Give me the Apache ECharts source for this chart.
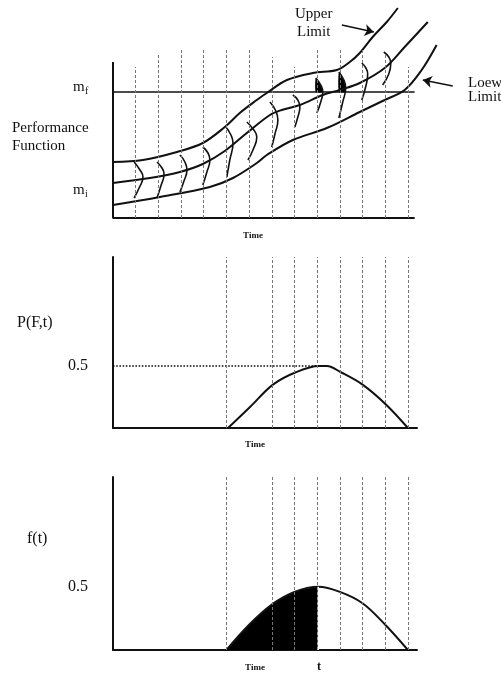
<!DOCTYPE html>
<html>
<head>
<meta charset="utf-8">
<script src="https://cdn.jsdelivr.net/npm/echarts@6/dist/echarts.min.js"></script>
<style>
  html, body { margin: 0; padding: 0; background: #fff; }
  #chart { width: 501px; height: 675px; }
</style>
</head>
<body>
<div id="chart"></div>
<script>
// top panel: performance function band (time units, performance units)
const upperLimit = [[0, 5.6], [1.32, 5.8], [2.82, 6.6], [3.96, 7.5], [4.93, 9.1], [5.59, 10.5], [6.34, 11.8], [6.78, 12.5],
  [7.67, 13.8], [8.81, 14.5], [9.87, 14.8], [10.44, 15.6], [10.88, 16.5], [11.45, 18.1], [12.07, 19.6], [12.56, 21.0]];
const meanCurve = [[0, 3.5], [1.63, 4.0], [2.95, 4.6], [3.96, 5.4], [4.93, 6.7], [5.9, 8.5], [6.92, 10.3], [7.44, 10.8],
  [8.24, 11.3], [9.25, 12.3], [10.0, 12.8], [10.88, 13.5], [11.98, 15.0], [12.86, 17.1], [13.88, 19.6]];
const lowerLimit = [[0, 1.3], [2.07, 2.1], [4.27, 3.1], [5.29, 4.0], [6.34, 5.5], [6.78, 6.3], [7.93, 7.8], [9.43, 9.0],
  [10.88, 10.6], [11.98, 11.8], [12.86, 12.8], [13.61, 14.8], [14.27, 17.3]];
const mf = 12.6;
const topAxisTop = 15.6;
const topAxisEnd = 13.3;

// little density sketches on each time line
const densities = [
  [[0.93, 5.6], [1.19, 4.8], [1.32, 4.1], [1.15, 3.0], [0.93, 2.0]],
  [[1.94, 5.6], [2.16, 5.0], [2.25, 4.4], [2.11, 3.2], [1.94, 2.0]],
  [[2.95, 6.3], [3.17, 5.6], [3.26, 4.8], [3.13, 3.7], [2.95, 2.6]],
  [[3.96, 7.1], [4.19, 6.5], [4.27, 5.8], [4.14, 4.6], [3.96, 3.3]],
  [[4.98, 9.1], [5.2, 8.3], [5.29, 7.5], [5.15, 5.8], [5.02, 4.1]],
  [[5.9, 9.6], [6.21, 8.8], [6.34, 8.1], [6.17, 6.8], [5.95, 5.8]],
  [[6.92, 11.6], [7.18, 10.7], [7.27, 9.8], [7.14, 8.4], [7.0, 7.1]],
  [[7.93, 12.3], [8.15, 11.8], [8.24, 11.1], [8.15, 10.1], [8.02, 9.1]],
  [[8.94, 14.0], [9.16, 13.3], [9.25, 12.6], [9.16, 11.6], [8.99, 10.5]],
  [[9.96, 14.6], [10.18, 13.8], [10.26, 13.0], [10.13, 11.6], [9.96, 10.0]],
  [[10.97, 15.5], [11.15, 15.0], [11.23, 14.4], [11.15, 13.2], [10.97, 11.8]],
  [[11.94, 16.6], [12.16, 16.1], [12.25, 15.5], [12.16, 14.4], [11.89, 13.3]]
];
// failed part (above mf) shaded black
const failFills = [
  [[8.94, 14.0], [9.16, 13.3], [9.25, 12.6], [8.94, 12.6]],
  [[9.96, 14.6], [10.18, 13.8], [10.26, 13.0], [10.24, 12.6], [9.96, 12.6]]
];
const topGuides = [1, 2, 3, 4, 5, 6, 7, 8, 9, 10, 11, 12, 13];
const topGuideTops = [15.1, 16.5, 16.8, 16.8, 16.8, 16.8, 16.1, 15.1, 16.8, 16.8, 16.8, 16.3, 15.1];

// middle panel P(F,t)
const pft = [[5.07, 0], [6.04, 0.17], [7.05, 0.35], [8.06, 0.45], [9.08, 0.5], [9.43, 0.5], [10.04, 0.45], [11.0, 0.35],
  [12.03, 0.19], [13.0, 0]];
// bottom panel f(t)
const ft = [[5.0, 0], [6.0, 0.2], [7.0, 0.36], [8.0, 0.46], [9.05, 0.5], [10.0, 0.46], [11.0, 0.37], [12.0, 0.2], [13.0, 0]];
const tMark = 9.05;
const lowerGuides = [5, 7, 8, 9, 10, 11, 12, 13];

const serif = 'Liberation Serif, serif';
const chart = echarts.init(document.getElementById('chart'));

function curve(data, gi) {
  return {
    type: 'line', xAxisIndex: gi, yAxisIndex: gi, data: data, smooth: 0.35,
    showSymbol: false, clip: false, silent: true,
    lineStyle: { color: '#111', width: 2 }, z: 5
  };
}
function straight(data, gi, w, type) {
  return {
    type: 'line', xAxisIndex: gi, yAxisIndex: gi, data: data, showSymbol: false, clip: false, silent: true,
    lineStyle: { color: '#111', width: w, type: type || 'solid' }, z: 4
  };
}
function guides(ts, tops, gi) {
  return {
    type: 'lines', coordinateSystem: 'cartesian2d', xAxisIndex: gi, yAxisIndex: gi, silent: true,
    data: ts.map((t, i) => ({ coords: [[t, 0], [t, Array.isArray(tops) ? tops[i] : tops]] })),
    lineStyle: { color: '#777', width: 1, type: [3, 2], opacity: 1 }, z: 6
  };
}

const series = [];
series.push(guides(topGuides, topGuideTops, 0));
series.push(straight([[0, topAxisTop], [0, 0], [topAxisEnd, 0]], 0, 2));
series.push(straight([[0, mf], [topAxisEnd, mf]], 0, 1.5));
series.push(curve(upperLimit, 0), curve(meanCurve, 0), curve(lowerLimit, 0));
densities.forEach(d => {
  series.push({
    type: 'line', xAxisIndex: 0, yAxisIndex: 0, data: d, smooth: 0.5, showSymbol: false, silent: true,
    lineStyle: { color: '#111', width: 1.6 }, z: 5
  });
});
series.push({
  type: 'custom', xAxisIndex: 0, yAxisIndex: 0, silent: true, z: 5,
  data: failFills.map((f, i) => [i]),
  renderItem: function (params, api) {
    const pts = failFills[params.dataIndex].map(p => api.coord(p));
    return { type: 'polygon', shape: { points: pts, smooth: 0.2 }, style: { fill: '#000' } };
  }
});
series.push({
  type: 'lines', coordinateSystem: 'cartesian2d', xAxisIndex: 0, yAxisIndex: 0, silent: true,
  symbol: ['none', 'arrow'], symbolSize: [0, 9],
  data: [{ coords: [[10.09, 19.3], [11.5, 18.6]] }, { coords: [[14.98, 13.2], [13.66, 13.8]] }],
  lineStyle: { color: '#111', width: 1.5, opacity: 1 }, z: 6
});

// middle
series.push(guides(lowerGuides, 1.38, 1));
series.push(straight([[0, 0.5], [9.1, 0.5]], 1, 1.6, 'dotted'));
series.push(curve(pft, 1));

// bottom
series.push({
  type: 'line', xAxisIndex: 2, yAxisIndex: 2, data: ft.filter(p => p[0] <= tMark), smooth: 0.35,
  showSymbol: false, silent: true, lineStyle: { width: 0 }, areaStyle: { color: '#000', opacity: 1 }, z: 3
});
series.push(guides(lowerGuides, 1.37, 2));
series.push(straight([[tMark, 0], [tMark, 0.5]], 2, 1.2));
series[series.length - 1].lineStyle.color = '#fff';
series[series.length - 1].z = 7;
series.push(curve(ft, 2));

function txt(text, x, y, size, opts) {
  opts = opts || {};
  return {
    type: 'text', x: x, y: y, silent: true, z: 10,
    style: {
      text: text, fill: '#111', font: (opts.bold ? 'bold ' : '') + size + 'px ' + serif,
      textAlign: opts.align || 'left', textVerticalAlign: 'middle'
    }
  };
}

const valueAxis = (gi, max, showHalf) => ({
  type: 'value', gridIndex: gi, min: 0, max: max, interval: 0.5,
  axisLine: { show: gi !== 0, lineStyle: { color: '#111', width: 2 } },
  axisTick: { show: false }, splitLine: { show: false },
  axisLabel: {
    show: showHalf, margin: 25, color: '#111', fontSize: 16, fontFamily: serif,
    formatter: v => (Math.abs(v - 0.5) < 1e-6 ? '0.5' : '')
  }
});
const timeAxis = (gi, max) => ({
  type: 'value', gridIndex: gi, min: 0, max: max,
  axisLine: { show: gi !== 0, onZero: false, lineStyle: { color: '#111', width: 2 } },
  axisTick: { show: false }, axisLabel: { show: false }, splitLine: { show: false }
});

chart.setOption({
  backgroundColor: '#fff',
  animation: false,
  grid: [
    { left: 113, top: 8, width: 381, height: 210 },
    { left: 113, top: 257, width: 304, height: 171 },
    { left: 113, top: 477, width: 304, height: 173 }
  ],
  xAxis: [timeAxis(0, 16.8), timeAxis(1, 13.4), timeAxis(2, 13.4)],
  yAxis: [
    { type: 'value', gridIndex: 0, min: 0, max: 21, show: false },
    valueAxis(1, 1.38, true),
    valueAxis(2, 1.37, true)
  ],
  series: series,
  graphic: [
    txt('Upper', 295, 14, 15),
    txt('Limit', 297, 32, 15),
    txt('Loew', 468, 83, 15),
    txt('Limit', 468, 97, 15),
    txt('Performance', 12, 128, 15),
    txt('Function', 12, 146, 15),
    txt('m', 73, 87, 15), txt('f', 85, 91, 10),
    txt('m', 73, 190, 15), txt('i', 85, 194, 10),
    txt('Time', 253, 236, 9, { bold: true, align: 'center' }),
    txt('P(F,t)', 17, 323, 16),
    txt('Time', 255, 445, 9, { bold: true, align: 'center' }),
    txt('f(t)', 27, 539, 16),
    txt('Time', 255, 668, 9, { bold: true, align: 'center' }),
    txt('t', 319, 667, 12, { bold: true, align: 'center' })
  ]
});
</script>
</body>
</html>
